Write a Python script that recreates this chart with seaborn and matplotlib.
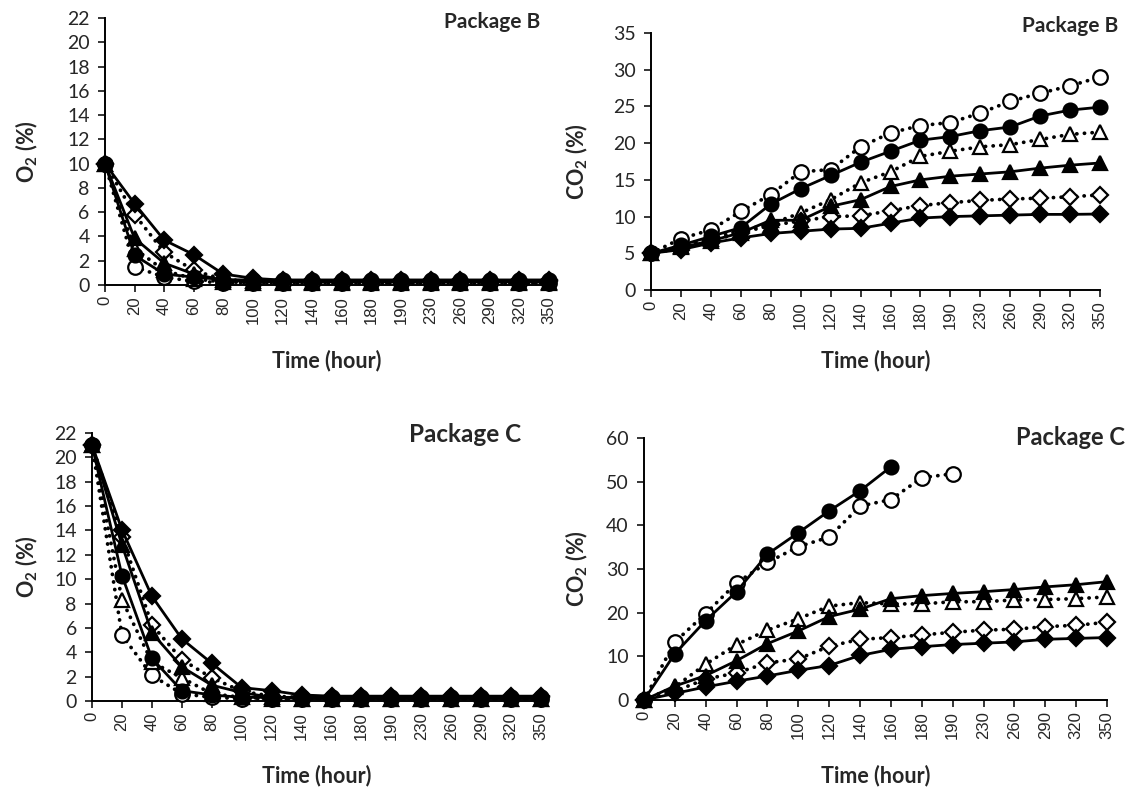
import numpy as np
import pandas as pd
import matplotlib
matplotlib.use("Agg")
import matplotlib.pyplot as plt
import seaborn as sns

# Sampling times (hours), shown as evenly spaced categories
hours = ["0", "20", "40", "60", "80", "100", "120", "140", "160", "180",
         "190", "230", "260", "290", "320", "350"]

nan = np.nan

# ---- O2 (%) in package B ----
o2_b_filled_diamond = [10, 6.7, 3.7, 2.5, 0.9, 0.55, 0.4, 0.4, 0.4, 0.4, 0.4, 0.4, 0.4, 0.4, 0.4, 0.4]
o2_b_open_diamond   = [10, 5.8, 2.7, 1.2, 0.45, 0.3, 0.3, 0.3, 0.3, 0.3, 0.3, 0.3, 0.3, 0.3, 0.3, 0.3]
o2_b_filled_triangle = [10, 3.85, 1.8, 0.9, 0.4, 0.3, 0.25, 0.25, 0.25, 0.25, 0.25, 0.25, 0.25, 0.25, 0.25, 0.25]
o2_b_open_triangle  = [10, 3.0, 1.2, 0.5, 0.25, 0.2, 0.15, 0.15, 0.15, 0.15, 0.15, 0.15, 0.15, 0.15, 0.15, 0.15]
o2_b_filled_circle  = [10, 2.45, 0.9, 0.65, 0.45, 0.4, 0.4, 0.4, 0.4, 0.4, 0.4, 0.4, 0.4, 0.4, 0.4, 0.4]
o2_b_open_circle    = [10, 1.5, 0.65, 0.3, 0.2, 0.2, 0.2, 0.2, 0.2, 0.2, 0.2, 0.2, 0.2, 0.2, 0.2, 0.2]

# ---- CO2 (%) in package B ----
co2_b_filled_diamond = [5, 5.5, 6.4, 7.1, 7.7, 8.0, 8.3, 8.4, 9.1, 9.8, 10.0, 10.1, 10.2, 10.3, 10.3, 10.35]
co2_b_open_diamond   = [5, 5.7, 6.7, 7.8, 8.8, 9.4, 10.0, 10.1, 10.8, 11.5, 11.9, 12.2, 12.4, 12.5, 12.7, 12.95]
co2_b_filled_triangle = [5, 5.8, 6.7, 7.8, 9.5, 9.5, 11.4, 12.3, 14.1, 15.0, 15.5, 15.8, 16.1, 16.6, 17.0, 17.3]
co2_b_open_triangle  = [5, 6.0, 7.0, 8.1, 9.0, 10.5, 12.3, 14.6, 16.1, 18.2, 18.9, 19.5, 19.8, 20.5, 21.2, 21.5]
co2_b_filled_circle  = [5, 6.1, 7.3, 8.5, 11.7, 13.8, 15.6, 17.4, 18.9, 20.4, 20.9, 21.7, 22.2, 23.7, 24.5, 24.9]
co2_b_open_circle    = [5, 7.0, 8.2, 10.7, 13.0, 16.1, 16.4, 19.5, 21.4, 22.4, 22.8, 24.1, 25.7, 26.8, 27.8, 29.0]

# ---- O2 (%) in package C ----
o2_c_filled_diamond = [21, 14.05, 8.6, 5.1, 3.1, 1.1, 0.85, 0.5, 0.4, 0.4, 0.4, 0.4, 0.4, 0.4, 0.4, 0.4]
o2_c_open_diamond   = [21, 13.5, 6.25, 3.4, 1.9, 0.8, 0.4, 0.3, 0.3, 0.3, 0.3, 0.3, 0.3, 0.3, 0.3, 0.3]
o2_c_filled_triangle = [21, 12.8, 5.6, 2.8, 1.3, 0.7, 0.3, 0.2, 0.2, 0.2, 0.2, 0.2, 0.2, 0.2, 0.2, 0.2]
o2_c_open_triangle  = [21, 8.3, 3.2, 1.9, 0.6, 0.3, 0.2, 0.2, 0.2, 0.2, 0.2, 0.2, 0.2, 0.2, 0.2, 0.2]
o2_c_filled_circle  = [21, 10.3, 3.5, 0.85, 0.5, 0.3, 0.3, 0.3, 0.3, 0.3, 0.3, 0.3, 0.3, 0.3, 0.3, 0.3]
o2_c_open_circle    = [21, 5.4, 2.1, 0.6, 0.3, 0.2, 0.2, 0.2, 0.2, 0.2, 0.2, 0.2, 0.2, 0.2, 0.2, 0.2]

# ---- CO2 (%) in package C ----
co2_c_filled_diamond = [0, 1.5, 3.0, 4.3, 5.5, 6.8, 7.9, 10.2, 11.6, 12.2, 12.7, 13.0, 13.3, 13.9, 14.1, 14.3]
co2_c_open_diamond   = [0, 2.0, 4.8, 6.2, 8.5, 9.4, 12.3, 13.9, 14.3, 14.9, 15.5, 16.0, 16.2, 16.8, 17.1, 17.8]
co2_c_filled_triangle = [0, 3.2, 5.6, 9.0, 12.9, 15.8, 19.1, 20.8, 23.2, 23.9, 24.4, 24.8, 25.3, 25.9, 26.4, 27.1]
co2_c_open_triangle  = [0, 3.0, 8.2, 12.7, 16.0, 18.6, 21.5, 22.3, 22.0, 22.0, 22.5, 22.5, 22.9, 23.0, 23.2, 23.6]
co2_c_filled_circle  = [0, 10.6, 18.2, 24.8, 33.4, 38.3, 43.3, 47.9, 53.4, nan, nan, nan, nan, nan, nan, nan]
co2_c_open_circle    = [0, 13.3, 19.8, 26.8, 31.5, 35.1, 37.3, 44.4, 45.9, 50.9, 51.8, nan, nan, nan, nan, nan]

sns.set_theme(style="white")
plt.rcParams["font.family"] = ["Lato", "DejaVu Sans"]
plt.rcParams["mathtext.fontset"] = "custom"
plt.rcParams["mathtext.rm"] = "Lato"
plt.rcParams["mathtext.bf"] = "Lato:bold"

# Marker shape, fill and line style of each treatment
styles = {
    "filled_diamond": dict(marker="D", filled=True, solid=True, ms=8),
    "open_diamond": dict(marker="D", filled=False, solid=False, ms=8),
    "filled_triangle": dict(marker="^", filled=True, solid=True, ms=10),
    "open_triangle": dict(marker="^", filled=False, solid=False, ms=10),
    "filled_circle": dict(marker="o", filled=True, solid=True, ms=10),
    "open_circle": dict(marker="o", filled=False, solid=False, ms=10.5),
}
# open markers underneath, filled markers on top
draw_order = ["open_circle", "open_triangle", "open_diamond",
              "filled_diamond", "filled_triangle", "filled_circle"]

panels = [
    dict(series={"filled_diamond": o2_b_filled_diamond, "open_diamond": o2_b_open_diamond,
                 "filled_triangle": o2_b_filled_triangle, "open_triangle": o2_b_open_triangle,
                 "filled_circle": o2_b_filled_circle, "open_circle": o2_b_open_circle},
         rect=[0.0925, 0.6388, 0.3912, 0.3384], ymax=22, ystep=2,
         ylabel=r"O$_{\mathbf{2}}$ (%)", title="Package B", tpos=(0.98, 0.985), tsize=15,
         ylc=-0.146, xlc=-0.243),
    dict(series={"filled_diamond": co2_b_filled_diamond, "open_diamond": co2_b_open_diamond,
                 "filled_triangle": co2_b_filled_triangle, "open_triangle": co2_b_open_triangle,
                 "filled_circle": co2_b_filled_circle, "open_circle": co2_b_open_circle},
         rect=[0.5736, 0.6324, 0.3956, 0.3258], ymax=35, ystep=5,
         ylabel=r"CO$_{\mathbf{2}}$ (%)", title="Package B", tpos=(1.04, 1.027), tsize=15,
         ylc=-0.136, xlc=-0.233),
    dict(series={"filled_diamond": o2_c_filled_diamond, "open_diamond": o2_c_open_diamond,
                 "filled_triangle": o2_c_filled_triangle, "open_triangle": o2_c_open_triangle,
                 "filled_circle": o2_c_filled_circle, "open_circle": o2_c_open_circle},
         rect=[0.0811, 0.1115, 0.3956, 0.3397], ymax=22, ystep=2,
         ylabel=r"O$_{\mathbf{2}}$ (%)", title="Package C", tpos=(0.955, 0.993), tsize=17.5,
         ylc=-0.116, xlc=-0.239),
    dict(series={"filled_diamond": co2_c_filled_diamond, "open_diamond": co2_c_open_diamond,
                 "filled_triangle": co2_c_filled_triangle, "open_triangle": co2_c_open_triangle,
                 "filled_circle": co2_c_filled_circle, "open_circle": co2_c_open_circle},
         rect=[0.5674, 0.1128, 0.4079, 0.3321], ymax=60, ystep=10,
         ylabel=r"CO$_{\mathbf{2}}$ (%)", title="Package C", tpos=(1.04, 1.0), tsize=17,
         ylc=-0.117, xlc=-0.248),
]

fig = plt.figure(figsize=(11.35, 7.89), dpi=100)
pos = np.arange(len(hours))

for p in panels:
    ax = fig.add_axes(p["rect"])
    for z, name in enumerate(draw_order):
        st = styles[name]
        df = pd.DataFrame({"pos": pos, "value": p["series"][name]}).dropna()
        line_kw = dict(lw=2.0) if st["solid"] else dict(lw=2.7, linestyle=(0, (0.05, 2.0)),
                                                         dash_capstyle="round")
        sns.lineplot(data=df, x="pos", y="value", ax=ax, color="black",
                     marker=st["marker"], markersize=st["ms"],
                     markerfacecolor="black" if st["filled"] else "white",
                     markeredgecolor="black", markeredgewidth=1.6,
                     clip_on=False, zorder=3 + z, **line_kw)
    ax.set_xlim(0, len(hours) - 1)
    ax.set_ylim(0, p["ymax"])
    ax.set_yticks(np.arange(0, p["ymax"] + 0.1, p["ystep"]))
    ax.set_xticks(pos)
    ax.set_xticklabels(hours, rotation=90, fontsize=12, family=["Liberation Sans"])
    ax.tick_params(axis="y", labelsize=14, length=5, width=1.3, direction="out", left=True, pad=6)
    ax.tick_params(axis="x", length=5, width=1.3, direction="out", bottom=True, pad=3)
    for side in ("top", "right"):
        ax.spines[side].set_visible(False)
    for side in ("left", "bottom"):
        ax.spines[side].set_color("black")
        ax.spines[side].set_linewidth(1.4)
    ax.set_xlabel("Time (hour)", fontsize=15.5, fontweight="bold")
    ax.set_ylabel(p["ylabel"], fontsize=15.5, fontweight="bold")
    ax.xaxis.set_label_coords(0.5, p["xlc"])
    ax.yaxis.set_label_coords(p["ylc"], 0.5)
    ax.text(p["tpos"][0], p["tpos"][1], p["title"], transform=ax.transAxes,
            ha="right", va="center", fontsize=p["tsize"], fontweight="bold")

fig.savefig("out.png", dpi=100, facecolor="white")
